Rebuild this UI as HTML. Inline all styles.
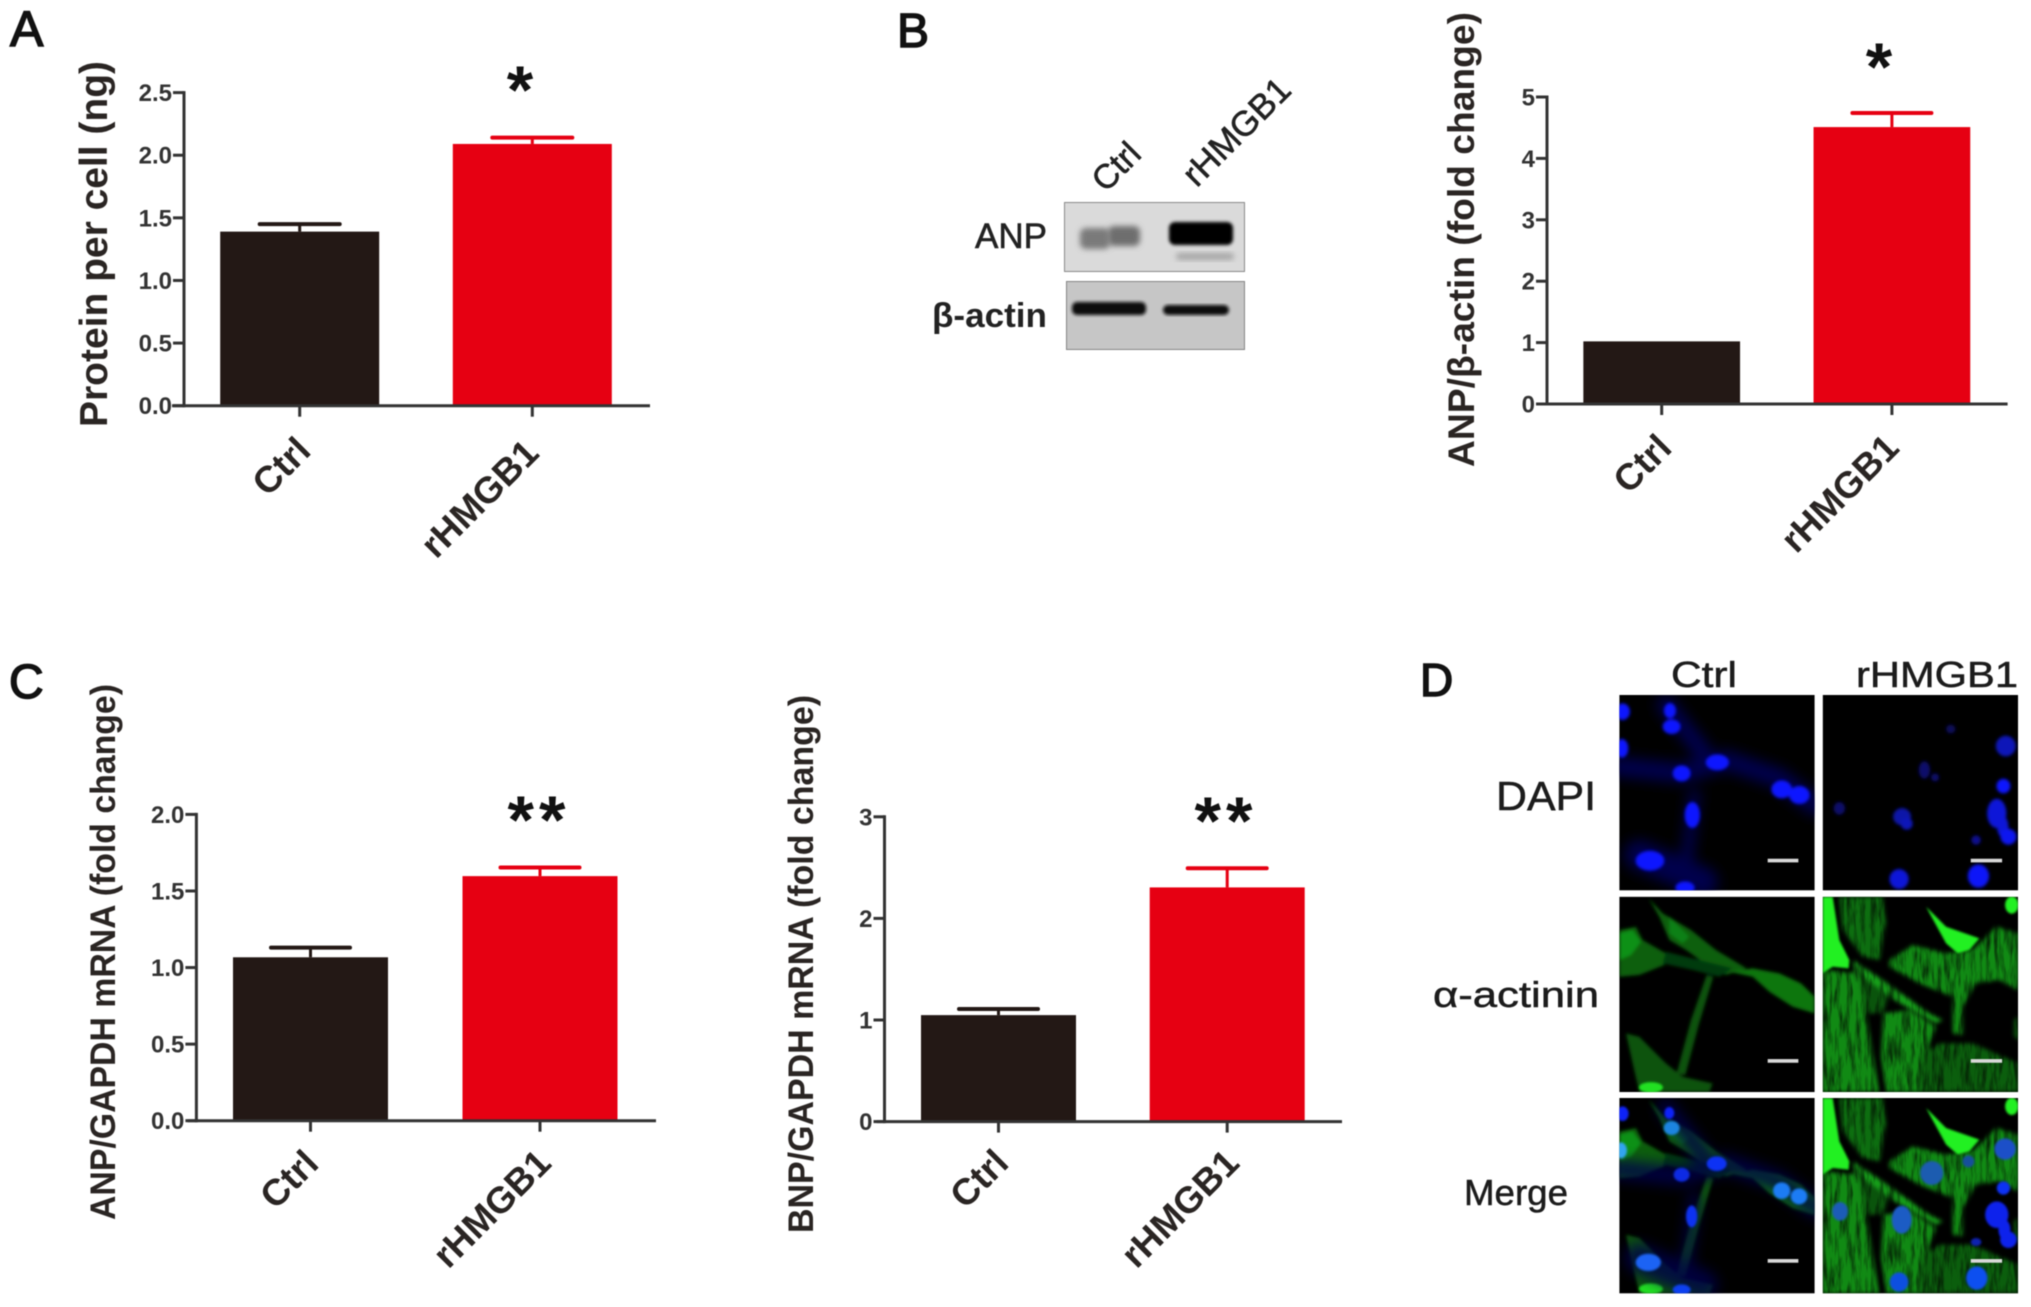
<!DOCTYPE html>
<html lang="en">
<head>
<meta charset="utf-8">
<title>Figure: rHMGB1 hypertrophy panels</title>
<style>
html,body{margin:0;padding:0;background:#fff;}
svg#figure{display:block;font-family:"Liberation Sans",sans-serif;filter:blur(.6px);}
.panel-letter{font-size:50px;fill:#111;stroke:#111;stroke-width:1.5px;}
.ylab{font-size:37px;font-weight:bold;fill:#2a2523;}
.star{font-size:68px;font-weight:bold;fill:#111;}
.wb{font-size:34px;fill:#222;stroke:#222;stroke-width:.6px;}
.d-lab{font-size:36px;fill:#1c1c1c;stroke:#1c1c1c;stroke-width:.5px;}
</style>
</head>
<body>
<svg id="figure" xmlns="http://www.w3.org/2000/svg" width="2031" height="1307" viewBox="0 0 2031 1307">
<defs>
  <filter id="b1" x="-20%" y="-20%" width="140%" height="140%"><feGaussianBlur stdDeviation="1.6"/></filter>
  <filter id="b3" x="-30%" y="-30%" width="160%" height="160%"><feGaussianBlur stdDeviation="3"/></filter>
  <filter id="b6" x="-30%" y="-30%" width="160%" height="160%"><feGaussianBlur stdDeviation="5"/></filter>
  <filter id="b16" x="-30%" y="-30%" width="160%" height="160%"><feGaussianBlur stdDeviation="20"/></filter>
  <filter id="fibers" x="-5%" y="-5%" width="110%" height="110%" color-interpolation-filters="sRGB">
    <feGaussianBlur in="SourceGraphic" stdDeviation="6" result="soft"/>
    <feTurbulence type="fractalNoise" baseFrequency="0.07 0.012" numOctaves="3" seed="4" result="noise"/>
    <feColorMatrix in="noise" type="matrix" values="0 0 0 0 0  0 0 0 0 0  0 0 0 0 0  1.5 0 0 0 0.12" result="mask"/>
    <feComposite in="soft" in2="mask" operator="in"/>
  </filter>

  <g id="dapi-ctrl-haze" filter="url(#b16)" fill="none" stroke="#03034c" stroke-linecap="round">
    <path d="M0 215 L190 235 L320 195 L480 250 L586 330" stroke-width="60"/>
    <path d="M140 30 L250 170" stroke-width="55"/>
    <path d="M225 300 L195 560" stroke-width="36"/>
    <path d="M60 480 L250 560" stroke-width="90"/>
  </g>
  <g id="dapi-ctrl-nuclei" filter="url(#b6)" fill="#0a14ff" stroke="#0a14ff" stroke-width="6">
    <ellipse cx="10" cy="50" rx="19" ry="22"/>
    <ellipse cx="152" cy="47" rx="15" ry="20"/>
    <ellipse cx="157" cy="95" rx="24" ry="19"/>
    <ellipse cx="8" cy="160" rx="16" ry="25"/>
    <ellipse cx="294" cy="202" rx="32" ry="21"/>
    <ellipse cx="187" cy="235" rx="24" ry="21"/>
    <ellipse cx="487" cy="283" rx="28" ry="24"/>
    <ellipse cx="540" cy="300" rx="28" ry="24"/>
    <ellipse cx="219" cy="360" rx="20" ry="36"/>
    <ellipse cx="92" cy="497" rx="40" ry="27"/>
    <ellipse cx="197" cy="578" rx="26" ry="16"/>
  </g>
  <g id="dapi-treated" filter="url(#b6)">
    <ellipse cx="549" cy="153" rx="30" ry="31" fill="#0a18b8"/>
    <ellipse cx="542" cy="273" rx="21" ry="22" fill="#0a14ff"/>
    <ellipse cx="522" cy="355" rx="29" ry="44" fill="#0a18d8"/>
    <ellipse cx="540" cy="395" rx="17" ry="32" fill="#0a18d8"/>
    <ellipse cx="557" cy="425" rx="24" ry="24" fill="#0a14f0"/>
    <ellipse cx="460" cy="435" rx="14" ry="14" fill="#0a1090"/>
    <ellipse cx="467" cy="543" rx="32" ry="35" fill="#0a14f8"/>
    <ellipse cx="229" cy="552" rx="29" ry="30" fill="#0a14d8"/>
    <ellipse cx="238" cy="365" rx="27" ry="26" fill="#0a14a8"/>
    <ellipse cx="252" cy="386" rx="18" ry="18" fill="#0a14b8"/>
    <ellipse cx="50" cy="340" rx="17" ry="19" fill="#08086a"/>
    <ellipse cx="305" cy="225" rx="17" ry="26" fill="#08086a"/>
    <ellipse cx="337" cy="247" rx="12" ry="12" fill="#08086a"/>
    <ellipse cx="384" cy="102" rx="14" ry="13" fill="#08085a"/>
  </g>
  <g id="green-ctrl">
    <g filter="url(#b6)" fill="#0a5e0c">
      <polygon points="88,5 130,50 215,100 290,160 340,190 382,215 320,235 270,210 200,160 150,130 120,60"/>
      <polygon points="0,100 50,90 70,130 140,170 135,205 60,235 0,240"/>
      <polygon points="330,225 400,215 480,230 545,260 586,300 586,350 520,330 450,285 400,240" fill="#0d7610"/>
      <polygon points="262,235 215,370 172,530 198,535 238,385 282,240" fill="#0a520c"/>
      <polygon points="20,410 60,420 140,500 190,540 280,560 270,586 60,586 40,500" fill="#0a520c"/>
      <polygon points="0,110 40,100 65,135 35,175 0,190" fill="#109014"/>
      <polygon points="150,60 210,120 190,140 150,110" fill="#0f8012"/>
      <polygon points="140,165 280,200 340,215 300,240 220,220 130,200" fill="#063a08"/>
    </g>
    <ellipse cx="95" cy="572" rx="36" ry="16" fill="#22e024" filter="url(#b3)"/>
  </g>
  <g id="green-treated">
    <g filter="url(#fibers)" fill="#118a14">
      <polygon points="0,220 110,230 130,350 170,586 0,586"/>
      <polygon points="50,0 180,0 190,80 170,190 120,180 60,100" fill="#0d6e10"/>
      <polygon points="200,190 270,145 370,170 450,160 520,90 586,110 586,280 530,250 460,260 420,330 420,415 390,410 390,300 340,280 290,260 200,210"/>
      <polygon points="90,190 180,250 320,350 360,370 340,380 250,330 100,240" fill="#16a01a"/>
      <polygon points="180,350 260,340 340,390 310,470 290,586 190,586 175,480" fill="#118a14"/>
      <polygon points="300,470 350,440 450,440 586,500 586,586 290,586" fill="#0b5e0d"/>
      <polygon points="110,230 200,300 180,350 130,350" fill="#0a540c"/>
      <polygon points="574,370 586,360 586,430 574,420" fill="#0b5e0d"/>
    </g>
    <g filter="url(#b3)" fill="#22f024">
      <polygon points="0,0 30,0 50,130 80,190 78,215 30,210 0,230"/>
      <polygon points="310,30 370,90 470,125 440,160 405,170 370,140"/>
      <ellipse cx="567" cy="25" rx="20" ry="26"/>
    </g>
  </g>
  <g id="nuclei-merge-ctrl" filter="url(#b3)">
    <ellipse cx="10" cy="47" rx="18" ry="22" fill="#0c24f8"/>
    <ellipse cx="150" cy="45" rx="15" ry="18" fill="#0c24f8"/>
    <ellipse cx="157" cy="90" rx="24" ry="21" fill="#1a84e0"/>
    <ellipse cx="5" cy="157" rx="18" ry="24" fill="#30a4f0"/>
    <ellipse cx="292" cy="197" rx="30" ry="22" fill="#0c30f4"/>
    <ellipse cx="187" cy="230" rx="24" ry="21" fill="#0c2ce4"/>
    <ellipse cx="487" cy="278" rx="26" ry="25" fill="#1a7cf4"/>
    <ellipse cx="539" cy="295" rx="25" ry="24" fill="#1a7cf4"/>
    <ellipse cx="217" cy="355" rx="17" ry="33" fill="#0c30f0"/>
    <ellipse cx="87" cy="493" rx="38" ry="26" fill="#1a64f4"/>
    <ellipse cx="187" cy="575" rx="27" ry="16" fill="#0c40f0"/>
  </g>
  <g id="nuclei-merge-treated" filter="url(#b3)">
    <ellipse cx="327" cy="225" rx="35" ry="36" fill="#1a5cb0"/>
    <ellipse cx="237" cy="365" rx="30" ry="42" fill="#1a5cc4"/>
    <ellipse cx="52" cy="340" rx="24" ry="28" fill="#1a5cb8"/>
    <ellipse cx="547" cy="153" rx="32" ry="32" fill="#1a50c8"/>
    <ellipse cx="542" cy="270" rx="20" ry="20" fill="#1030f4"/>
    <ellipse cx="522" cy="350" rx="35" ry="40" fill="#0c20ec"/>
    <ellipse cx="545" cy="395" rx="18" ry="30" fill="#0c20ec"/>
    <ellipse cx="557" cy="425" rx="25" ry="25" fill="#0c20ec"/>
    <ellipse cx="460" cy="432" rx="16" ry="12" fill="#0c20b0"/>
    <ellipse cx="462" cy="540" rx="32" ry="35" fill="#1050f0"/>
    <ellipse cx="229" cy="552" rx="28" ry="29" fill="#1050e0"/>
    <ellipse cx="437" cy="190" rx="18" ry="18" fill="#14509c"/>
  </g>
</defs>

<rect width="2031" height="1307" fill="#ffffff"/>

<!-- panel letters -->
<text class="panel-letter" x="10" y="46">A</text>
<text class="panel-letter" x="897" y="47" style="font-size:48px">B</text>
<text class="panel-letter" x="9" y="698" style="font-size:48px">C</text>
<text class="panel-letter" x="1420" y="696" style="font-size:46px">D</text>

<!-- chart containers, filled by script -->
<g id="chart-a"></g>
<g id="chart-b"></g>
<g id="chart-c1"></g>
<g id="chart-c2"></g>

<!-- axis titles -->
<text class="ylab" transform="translate(107,427) rotate(-90)" style="font-size:39px" textLength="366" lengthAdjust="spacingAndGlyphs">Protein per cell (ng)</text>
<text class="ylab" transform="translate(1474,467) rotate(-90)" textLength="455" lengthAdjust="spacingAndGlyphs">ANP/β-actin (fold change)</text>
<text class="ylab" transform="translate(115,1220) rotate(-90)" style="font-size:35px" textLength="536" lengthAdjust="spacingAndGlyphs">ANP/GAPDH mRNA (fold change)</text>
<text class="ylab" transform="translate(813,1233) rotate(-90)" style="font-size:35px" textLength="538" lengthAdjust="spacingAndGlyphs">BNP/GAPDH mRNA (fold change)</text>

<!-- significance marks -->
<text class="star" x="520" y="113" text-anchor="middle">*</text>
<text class="star" x="1879" y="90" text-anchor="middle">*</text>
<text class="star" x="539" y="843" text-anchor="middle" letter-spacing="5">**</text>
<text class="star" x="1226" y="844" text-anchor="middle" letter-spacing="5">**</text>

<!-- western blot -->
<g>
  <text class="wb" transform="translate(1143,156) rotate(-45)" text-anchor="end">Ctrl</text>
  <text class="wb" transform="translate(1293,92) rotate(-45)" text-anchor="end" style="font-size:35px">rHMGB1</text>
  <text class="wb" x="1047" y="248" text-anchor="end" style="font-size:35px">ANP</text>
  <text class="wb" x="1047" y="327" text-anchor="end" style="font-size:34px;font-weight:bold;stroke:none" textLength="115" lengthAdjust="spacingAndGlyphs">β-actin</text>
  <svg x="1064" y="202" width="181" height="70">
    <rect width="181" height="70" fill="#dadada" stroke="#8a8a8a" stroke-width="2"/>
    <rect x="16" y="26" width="30" height="21" rx="6" fill="#7a7a7a" filter="url(#b3)"/>
    <rect x="44" y="24" width="32" height="20" rx="6" fill="#6e6e6e" filter="url(#b3)"/>
    <rect x="105" y="20" width="64" height="23" rx="6" fill="#050505" filter="url(#b1)"/>
    <rect x="112" y="51" width="58" height="7" rx="3" fill="#a6a6a6" filter="url(#b3)"/>
  </svg>
  <svg x="1066" y="281" width="179" height="69">
    <rect width="179" height="69" fill="#c6c6c6" stroke="#858585" stroke-width="2"/>
    <rect x="6" y="21" width="74" height="13" rx="5" fill="#0a0a0a" filter="url(#b1)"/>
    <rect x="97" y="24" width="66" height="10" rx="5" fill="#0a0a0a" filter="url(#b1)"/>
  </svg>
</g>

<!-- microscopy grid -->
<g>
  <text class="d-lab" x="1671" y="687" textLength="66" lengthAdjust="spacingAndGlyphs">Ctrl</text>
  <text class="d-lab" x="1856" y="687" textLength="162" lengthAdjust="spacingAndGlyphs">rHMGB1</text>
  <text class="d-lab" x="1496" y="810" style="font-size:41px" textLength="100" lengthAdjust="spacingAndGlyphs">DAPI</text>
  <text class="d-lab" x="1433" y="1007" textLength="166" lengthAdjust="spacingAndGlyphs">α-actinin</text>
  <text class="d-lab" x="1464" y="1205" style="font-size:36px" textLength="104" lengthAdjust="spacingAndGlyphs">Merge</text>

  <svg x="1619.3" y="695" width="195.4" height="195.4" viewBox="0 0 586 586">
    <rect width="586" height="586" fill="#000"/>
    <use href="#dapi-ctrl-haze"/><use href="#dapi-ctrl-nuclei"/>
    <rect x="445" y="491" width="92" height="11" fill="#d8d8d8"/>
  </svg>
  <svg x="1822.7" y="695" width="195.4" height="195.4" viewBox="0 0 586 586">
    <rect width="586" height="586" fill="#000"/>
    <use href="#dapi-treated"/>
    <rect x="444" y="491" width="94" height="11" fill="#d8d8d8"/>
  </svg>
  <svg x="1619.3" y="896.7" width="195.4" height="195.4" viewBox="0 0 586 586">
    <rect width="586" height="586" fill="#000"/>
    <use href="#green-ctrl"/>
    <rect x="445" y="487" width="92" height="11" fill="#d8d8d8"/>
  </svg>
  <svg x="1822.7" y="896.7" width="195.4" height="195.4" viewBox="0 0 586 586">
    <rect width="586" height="586" fill="#000"/>
    <use href="#green-treated"/>
    <rect x="444" y="487" width="94" height="11" fill="#d8d8d8"/>
  </svg>
  <svg x="1619.3" y="1098" width="195.4" height="195.4" viewBox="0 0 586 586">
    <rect width="586" height="586" fill="#000"/>
    <use href="#green-ctrl"/><use href="#dapi-ctrl-haze" opacity=".8"/><use href="#nuclei-merge-ctrl"/>
    <rect x="445" y="483" width="92" height="11" fill="#d8d8d8"/>
  </svg>
  <svg x="1822.7" y="1098" width="195.4" height="195.4" viewBox="0 0 586 586">
    <rect width="586" height="586" fill="#000"/>
    <use href="#green-treated"/><use href="#nuclei-merge-treated"/>
    <rect x="444" y="483" width="94" height="11" fill="#d8d8d8"/>
  </svg>
</g>
</svg>

<script>
const categories = ['Ctrl', 'rHMGB1'];

const ticksA = ['0.0', '0.5', '1.0', '1.5', '2.0', '2.5'];
const valuesA = [1.39, 2.09];
const errorsA = [0.06, 0.05];

const ticksB = ['0', '1', '2', '3', '4', '5'];
const valuesB = [1.02, 4.51];
const errorsB = [0, 0.23];

const ticksC1 = ['0.0', '0.5', '1.0', '1.5', '2.0'];
const valuesC1 = [1.067, 1.597];
const errorsC1 = [0.063, 0.056];

const ticksC2 = ['0', '1', '2', '3'];
const valuesC2 = [1.048, 2.305];
const errorsC2 = [0.06, 0.189];

const barColors = ['#231815', '#e60012'];
const NS = 'http://www.w3.org/2000/svg';

function make(parent, tag, attrs, text) {
  const node = document.createElementNS(NS, tag);
  for (const key in attrs) node.setAttribute(key, attrs[key]);
  if (text !== undefined) node.textContent = text;
  parent.appendChild(node);
  return node;
}

function drawChart(rootId, ticks, values, errors, f) {
  const root = document.getElementById(rootId);
  const maxTick = parseFloat(ticks[ticks.length - 1]);
  const yScale = function (v) { return f.y0 - (v / maxTick) * (f.y0 - f.yTop); };
  const xScale = function (i) { return f.c0 + i * f.step; };

  values.forEach(function (v, i) {
    const cx = xScale(i);
    const top = yScale(v);
    const bar = make(root, 'rect', {x: cx - f.barW / 2, y: top, width: f.barW, height: f.y0 - top, fill: barColors[i]});
    
    
    if (errors[i] > 0) {
      const capY = yScale(v + errors[i]);
      const stem = make(root, 'line', {x1: cx, x2: cx, y1: top, y2: capY, stroke: barColors[i], 'stroke-width': 3});
      
      
      const cap = make(root, 'line', {x1: cx - f.capW / 2, x2: cx + f.capW / 2, y1: capY, y2: capY, stroke: barColors[i], 'stroke-width': 4, 'stroke-linecap': 'round'});
      
      
    }
  });

  const yAxis = make(root, 'line', {x1: f.x0, x2: f.x0, y1: f.yTop - 1.5, y2: f.y0 + 1.5, stroke: '#333', 'stroke-width': 3});
  
  
  const xAxis = make(root, 'line', {x1: f.xStart, x2: f.xEnd, y1: f.y0, y2: f.y0, stroke: '#333', 'stroke-width': 3});
  
  

  ticks.forEach(function (label) {
    const y = yScale(parseFloat(label));
    const mark = make(root, 'line', {x1: f.x0 - 11, x2: f.x0, y1: y, y2: y, stroke: '#333', 'stroke-width': 3});
    
    
    const tickText = make(root, 'text', {x: f.x0 - 12, y: y + 8.5, 'text-anchor': 'end', 'font-size': 24, 'font-weight': 'bold', fill: '#333'}, label);
    
    
  });

  categories.forEach(function (label, i) {
    const cx = xScale(i);
    const mark = make(root, 'line', {x1: cx, x2: cx, y1: f.y0, y2: f.y0 + 11, stroke: '#333', 'stroke-width': 3});
    
    
    const tx = cx + f.labelDx[i];
    const ty = f.y0 + f.labelDy[i];
    const catText = make(root, 'text', {transform: 'translate(' + tx + ',' + ty + ') rotate(-45)', 'text-anchor': 'end', 'font-size': 37, 'font-weight': 'bold', fill: '#2a2523'}, label);
    
    
  });
}

drawChart('chart-a', ticksA, valuesA, errorsA, {x0: 184, y0: 405.7, yTop: 92.6, xStart: 172, xEnd: 650, c0: 299.7, step: 232.6, barW: 159, capW: 80, labelDx: [13, 8.5], labelDy: [47, 49.5]});
drawChart('chart-b', ticksB, valuesB, errorsB, {x0: 1547, y0: 404, yTop: 97, xStart: 1537, xEnd: 2007.6, c0: 1661.7, step: 230.2, barW: 156.7, capW: 79, labelDx: [12, 9], labelDy: [46, 46]});
drawChart('chart-c1', ticksC1, valuesC1, errorsC1, {x0: 196.4, y0: 1120.7, yTop: 814.4, xStart: 187.5, xEnd: 656, c0: 310.5, step: 229.5, barW: 155, capW: 79, labelDx: [10, 13], labelDy: [45, 44.5]});
drawChart('chart-c2', ticksC2, valuesC2, errorsC2, {x0: 884.5, y0: 1121.6, yTop: 816.8, xStart: 876.6, xEnd: 1342, c0: 998.5, step: 228.7, barW: 155, capW: 79, labelDx: [12, 14], labelDy: [43.5, 43.5]});
</script>
</body>
</html>
